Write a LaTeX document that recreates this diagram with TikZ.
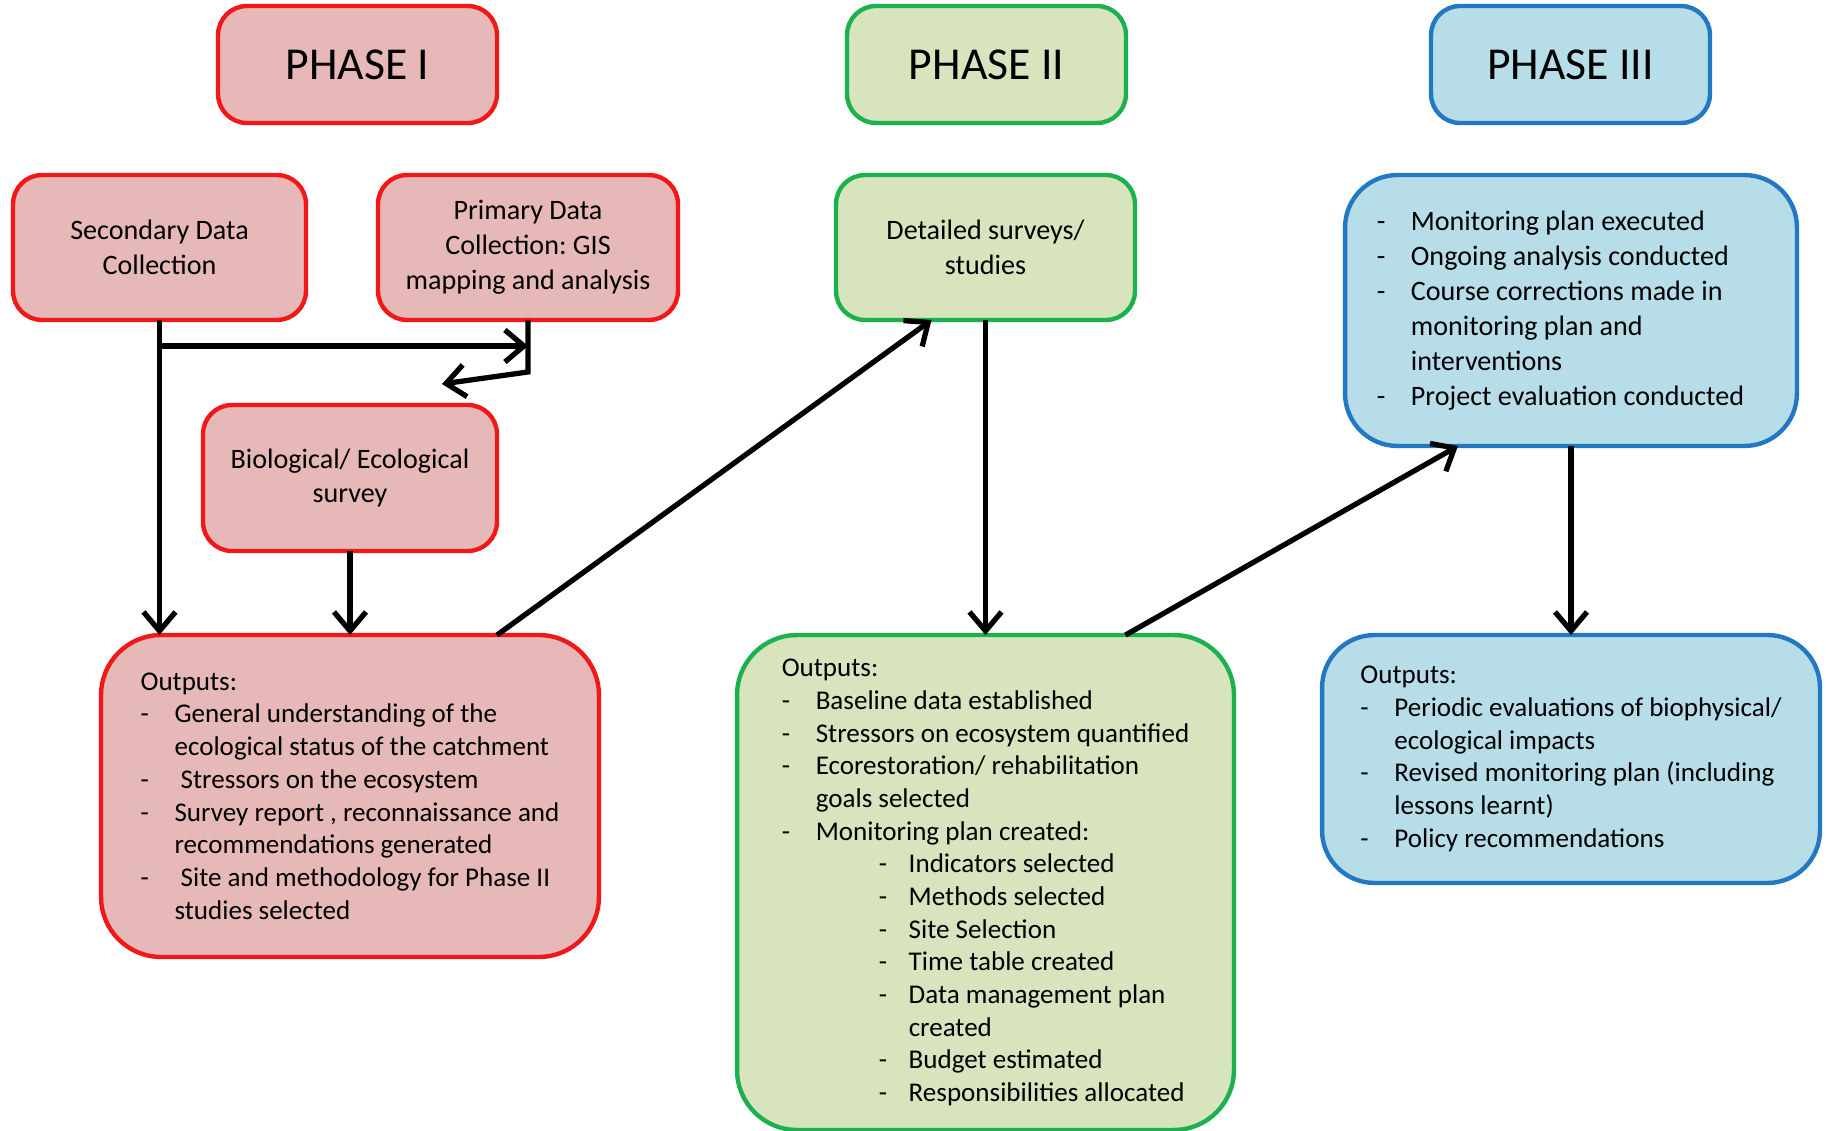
\documentclass[tikz,border=0pt]{standalone}
\usepackage{fontspec}
\setmainfont{Carlito}
\frenchspacing
\usetikzlibrary{arrows.meta,calc}
\definecolor{redfill}{HTML}{E6B9B8}
\definecolor{redline}{HTML}{F01818}
\definecolor{greenfill}{HTML}{D7E4BD}
\definecolor{greenline}{HTML}{1DB04F}
\definecolor{bluefill}{HTML}{B7DDE8}
\definecolor{blueline}{HTML}{2378C4}
\tikzset{
	box/.style={draw, rounded corners=0.58cm, line width=2.5pt, inner sep=0pt, outer sep=0pt,
		align=center, font=\fontsize{16}{19.8}\selectfont},
	redbox/.style={box, draw=redline, fill=redfill},
	greenbox/.style={box, draw=greenline, fill=greenfill},
	bluebox/.style={box, draw=blueline, fill=bluefill},
	phasebox/.style={minimum width=5.58cm, minimum height=2.34cm, font=\fontsize{26}{30}\selectfont},
	smallbox/.style={minimum width=5.9cm, minimum height=2.9cm},
	outbox/.style={rounded corners=1.2cm, align=left, font=\fontsize{15.4}{18.6}\selectfont},
	arr/.style={line width=3pt, -{Straight Barb[length=0.38cm,width=0.64cm]}},
}
\newcommand{\itemline}[1]{\makebox[0.68cm][l]{-}#1}
\newcommand{\contline}[1]{\hspace*{0.68cm}#1}
\newcommand{\subline}[1]{\hspace*{1.94cm}\makebox[0.6cm][l]{-}#1}
\newcommand{\subcont}[1]{\hspace*{2.54cm}#1}
\begin{document}
\begin{tikzpicture}[x=0.02cm,y=-0.02cm]
\useasboundingbox (0,0) rectangle (1826,1131);

% phase headers
\node[redbox, phasebox] (ph1) at (357.5,64.5) {PHASE I};
\node[greenbox, phasebox] (ph2) at (986.5,64.5) {PHASE II};
\node[bluebox, phasebox] (ph3) at (1570.5,64.5) {PHASE III};

% phase I
\node[redbox, smallbox, minimum width=5.86cm] (sec) at (159.5,247.5) {Secondary Data\\Collection};
\node[redbox, smallbox, minimum width=6cm] (prim) at (528,247.5) {Primary Data\\Collection: GIS\\mapping and analysis};
\node[redbox, smallbox, minimum width=5.88cm, minimum height=2.92cm] (bio) at (350,478) {Biological/ Ecological\\survey};
\node[redbox, outbox, minimum width=9.96cm, minimum height=6.44cm] (out1) at (350,796) {%
	Outputs:\\
	\itemline{General understanding of the}\\
	\contline{ecological status of the catchment}\hspace*{0.24cm}\\
	\itemline{\ Stressors on the ecosystem}\\
	\itemline{Survey report , reconnaissance and}\hspace*{0.24cm}\\
	\contline{recommendations generated}\\
	\itemline{\ Site and methodology for Phase II}\\
	\contline{studies selected}};

% phase II
\node[greenbox, smallbox, minimum width=5.98cm] (det) at (985.5,247.5) {Detailed surveys/\\studies};
\node[greenbox, outbox, minimum width=9.94cm, minimum height=9.9cm] (out2) at (985.5,882.5) {%
	Outputs:\\
	\itemline{Baseline data established}\\
	\itemline{Stressors on ecosystem quantified}\\
	\itemline{Ecorestoration/ rehabilitation}\\
	\contline{goals selected}\\
	\itemline{Monitoring plan created:}\\
	\subline{Indicators selected}\\
	\subline{Methods selected}\\
	\subline{Site Selection}\\
	\subline{Time table created}\\
	\subline{Data management plan}\\
	\subcont{created}\\
	\subline{Budget estimated}\\
	\subline{Responsibilities allocated}};

% phase III
\node[bluebox, outbox, rounded corners=1.05cm, minimum width=9.04cm, minimum height=5.42cm,
	font=\fontsize{16}{19.9}\selectfont] (exec) at (1571,310.5) {%
	\itemline{Monitoring plan executed}\\
	\itemline{Ongoing analysis conducted}\hspace*{0.42cm}\\
	\itemline{Course corrections made in}\\
	\contline{monitoring plan and}\\
	\contline{interventions}\\
	\itemline{Project evaluation conducted}\hspace*{0.42cm}};
\node[bluebox, outbox, rounded corners=1.05cm, minimum width=9.96cm, minimum height=4.96cm] (out3) at (1571,759) {%
	Outputs:\\
	\itemline{Periodic evaluations of biophysical/}\hspace*{0.28cm}\\
	\contline{ecological impacts}\\
	\itemline{Revised monitoring plan (including}\hspace*{0.28cm}\\
	\contline{lessons learnt)}\\
	\itemline{Policy recommendations}};

% connectors
\coordinate (split) at ($(sec.south)+(0,26)$);
\coordinate (bend) at ($(prim.south)+(0,52)$);
\coordinate (bioin) at (442,384);
\draw[arr] (sec.south) -- (sec.south |- out1.north);
\draw[arr] (split) -- (split -| prim.south);
\draw[arr] (prim.south) -- (bend) -- (bioin);
\draw[arr] (bio.south) -- (out1.north -| bio.south);
\draw[arr] ($(out1.north)+(147,0)$) -- ($(det.south)+(-54,0)$);
\draw[arr] (det.south) -- (out2.north -| det.south);
\draw[arr] ($(out2.north)+(140,0)$) -- ($(exec.south)+(-113,0)$);
\draw[arr] (exec.south) -- (out3.north -| exec.south);
\end{tikzpicture}
\end{document}
